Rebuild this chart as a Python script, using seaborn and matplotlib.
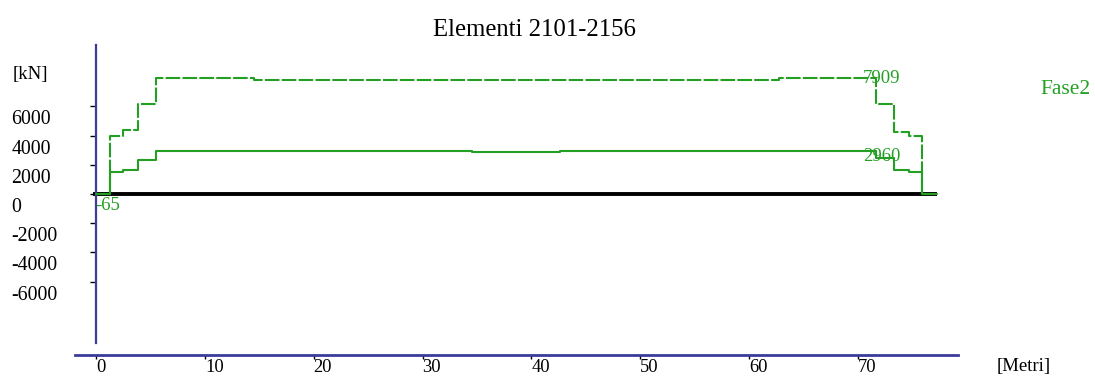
import pandas as pd
import seaborn as sns
import matplotlib.pyplot as plt
import matplotlib.transforms as mtransforms


# step positions along the element chain [Metri]
x_pos = [0, 1.29, 2.45, 3.89, 5.51, 14.5, 34.5, 42.6, 62.7, 71.65, 73.3, 74.7, 75.9, 77.25]
# lower envelope (solid) and upper envelope (dashed) [kN], value from each step on
fase2_low = [0, 1523, 1660, 2343, 2960, 2960, 2850, 2960, 2960, 2440, 1640, 1500, 0, 0]
fase2_high = [0, 3961, 4350, 6126, 7909, 7800, 7800, 7800, 7909, 6126, 4250, 3961, 0, 0]
min_label = '-65'

y_ticks = [-6000, -4000, -2000, 0, 2000, 4000, 6000]
x_ticks = [0, 10, 20, 30, 40, 50, 60, 70]

GREEN = '#23a023'
BLUE = '#3b3b9b'
SERIF = ['Liberation Serif', 'DejaVu Serif']


def build_frame():
    df_low = pd.DataFrame({'x': x_pos, 'kN': fase2_low, 'serie': 'low'})
    df_high = pd.DataFrame({'x': x_pos, 'kN': fase2_high, 'serie': 'high'})
    return pd.concat([df_low, df_high], ignore_index=True)


def create_graph():
    sns.set_theme(style='white')
    plt.rcParams['font.family'] = SERIF
    plt.rcParams['text.color'] = 'black'

    fig = plt.figure(figsize=(10.95, 3.76), dpi=100)
    ax = fig.add_axes([75 / 1095, 21 / 376, 883 / 1095, 310 / 376])

    df = build_frame()

    # zero line
    ax.hlines(0, -0.3, x_pos[-1], color='black', lw=2.8, zorder=2)

    sns.lineplot(data=df, x='x', y='kN', style='serie', color=GREEN,
                 dashes={'low': '', 'high': (7, 1.1)}, lw=1.5,
                 drawstyle='steps-post', estimator=None, sort=False,
                 legend=False, ax=ax, zorder=3)

    ax.set_xlim(-1.93, 79.18)
    ax.set_ylim(-11012, 10192)

    # axes lines
    for side in ['top', 'right']:
        ax.spines[side].set_visible(False)
    ax.spines['left'].set_position(('data', 0))
    ax.spines['left'].set_bounds(-10192, 10192)
    ax.spines['left'].set_color(BLUE)
    ax.spines['left'].set_linewidth(1.6)
    ax.spines['bottom'].set_color(BLUE)
    ax.spines['bottom'].set_linewidth(2)

    ax.set_yticks(y_ticks)
    ax.set_yticklabels([str(t) for t in y_ticks])
    ax.set_xticks(x_ticks)
    ax.set_xticklabels([str(t) for t in x_ticks])
    ax.tick_params(axis='y', direction='out', length=4, width=1, color='black',
                   labelcolor='black', pad=57, labelsize=14.3, left=True)
    ax.tick_params(axis='x', direction='out', length=3, width=1, color='black',
                   labelcolor='black', pad=0, labelsize=13.3, bottom=True)
    shift_y = mtransforms.ScaledTranslation(0, -0.11, fig.dpi_scale_trans)
    for lab in ax.get_yticklabels():
        lab.set_horizontalalignment('left')
        lab.set_transform(lab.get_transform() + shift_y)
    for lab in ax.get_xticklabels():
        lab.set_horizontalalignment('left')
    ax.set(xlabel='', ylabel='')
    ax.grid(False)

    # max / min labels
    ax.annotate(str(max(fase2_high)), (70.45, max(fase2_high)), color=GREEN,
                fontsize=13.5, ha='left', va='center')
    ax.annotate(str(max(fase2_low)), (70.45, max(fase2_low)), xytext=(0, -4.5),
                textcoords='offset points', color=GREEN, fontsize=13.5,
                ha='left', va='center')
    ax.annotate(min_label, (-0.1, 0), xytext=(0, -8.6), textcoords='offset points',
                color=GREEN, fontsize=13.5, ha='left', va='center')

    fig.text(534 / 1095, 1 - 30 / 376, 'Elementi 2101-2156', fontsize=17.8,
             ha='center', va='center', color='black')
    fig.text(13 / 1095, 1 - 74 / 376, '[kN]', fontsize=13.5, ha='left', va='center')
    fig.text(997 / 1095, 1 - 367 / 376, '[Metri]', fontsize=13.5, ha='left', va='center')
    fig.text(1040 / 1095, 1 - 89 / 376, 'Fase2', fontsize=15.5, color=GREEN,
             ha='left', va='center')

    fig.savefig('out.png', dpi=100)


if __name__ == '__main__':
    create_graph()
